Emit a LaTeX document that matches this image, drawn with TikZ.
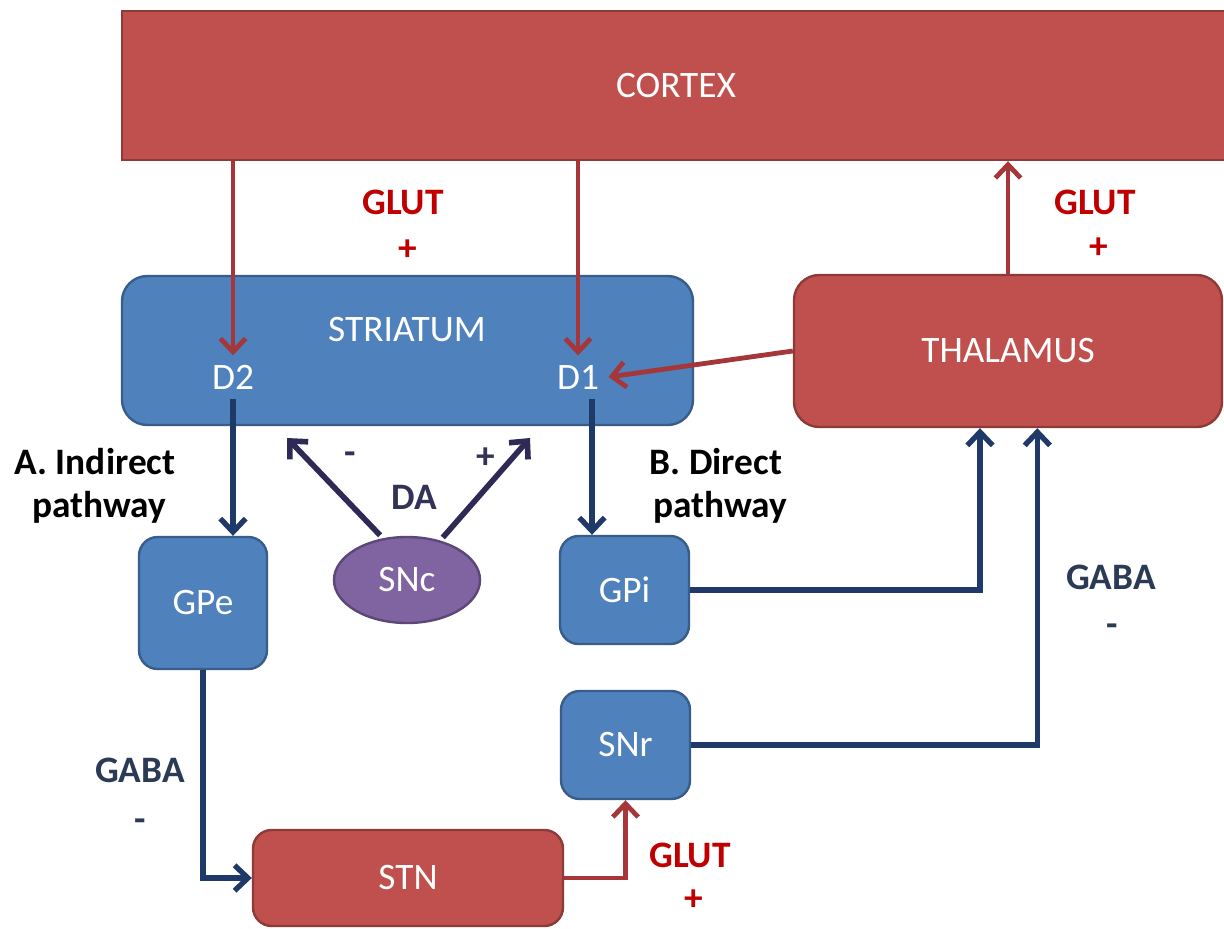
\documentclass[tikz,border=0pt]{standalone}
\usepackage{fontspec}
\setmainfont{Carlito}
\usetikzlibrary{arrows.meta,shapes.geometric}
\definecolor{redfill}{HTML}{C0504D}
\definecolor{redline}{HTML}{8E3A38}
\definecolor{bluefill}{HTML}{4F81BD}
\definecolor{blueline}{HTML}{385D8A}
\definecolor{purpfill}{HTML}{8064A2}
\definecolor{purpline}{HTML}{5C4776}
\definecolor{redarr}{HTML}{A5373A}
\definecolor{navyarr}{HTML}{1F3A68}
\definecolor{daarr}{HTML}{2F2A55}
\definecolor{redtxt}{HTML}{C00000}
\definecolor{navytxt}{HTML}{2B3A55}
\definecolor{datxt}{HTML}{333355}
\begin{document}
\begin{tikzpicture}[x=0.75pt,y=-0.75pt,
  every node/.style={font=\fontsize{28}{33}\selectfont},
  redbox/.style={draw=redline,fill=redfill,line width=1.8pt,text=white,inner sep=0pt},
  bluebox/.style={draw=blueline,fill=bluefill,line width=1.8pt,text=white,inner sep=0pt},
  dlabel/.style={text=white,inner sep=7pt},
  tipstyle/.style={-{Straight Barb[length=10pt,width=19pt]}},
  redarrow/.style={tipstyle,draw=redarr,line width=3.6pt},
  navyarrow/.style={tipstyle,draw=navyarr,line width=4pt},
  daarrow/.style={tipstyle,draw=daarr,line width=4.2pt},
  redlbl/.style={text=redtxt,font=\fontsize{28}{33}\selectfont\bfseries},
  navylbl/.style={text=navytxt,font=\fontsize{28}{33}\selectfont\bfseries},
  dalbl/.style={text=datxt,font=\fontsize{28}{33}\selectfont\bfseries},
  pathlbl/.style={text=black,font=\fontsize{28}{33}\selectfont\bfseries,align=center}
]
\useasboundingbox[fill=white] (0,0) rectangle (1224,928);

% boxes
\node[redbox,minimum width=831pt,minimum height=111.75pt] (cortex) at (676,85.5) {CORTEX};
\node[bluebox,rounded corners=19pt,minimum width=428.25pt,minimum height=111.75pt] (str) at (407.5,350.5) {};
\node[text=white] (strlbl) at (407,330) {STRIATUM};
\node[dlabel] (d2) at (233,377) {D2};
\node[dlabel] (d1) at (578,377) {D1};
\node[redbox,rounded corners=19pt,minimum width=321pt,minimum height=114pt] (thal) at (1008,351) {THALAMUS};
\node[bluebox,rounded corners=14pt,minimum width=96pt,minimum height=99pt] (gpe) at (203,603) {GPe};
\node[draw=purpline,fill=purpfill,line width=1.8pt,ellipse,text=white,inner sep=0pt,minimum width=109.5pt,minimum height=64.5pt] (snc) at (407,580) {SNc};
\node[bluebox,rounded corners=14pt,minimum width=96.75pt,minimum height=81pt] (gpi) at (624.5,590) {GPi};
\node[bluebox,rounded corners=14pt,minimum width=96.75pt,minimum height=81pt] (snr) at (625.5,745) {SNr};
\node[redbox,rounded corners=14pt,minimum width=232.5pt,minimum height=72pt] (stn) at (408,878) {STN};

% tips of the dopamine arrows
\coordinate (tipL) at (287,438);
\coordinate (tipR) at (530,438);

% connectors
\draw[redarrow] (d2 |- cortex.south) -- (d2.north);
\draw[redarrow] (d1 |- cortex.south) -- (d1.north);
\draw[redarrow] (thal.west) -- (d1.east);
\draw[redarrow] (thal.north) -- (thal.north |- cortex.south);
\draw[navyarrow] (d2.south) -- (d2.south |- gpe.north);
\draw[navyarrow] ([xshift=10.5pt]d1.south) -- ([xshift=10.5pt]d1.south |- gpi.north);
\draw[daarrow,shorten <=3pt] (snc.120) -- (tipL);
\draw[daarrow,shorten <=3pt] (snc.50) -- (tipR);
\draw[navyarrow] (gpi.east) -| ([xshift=-21pt]thal.south);
\draw[navyarrow] (snr.east) -| ([xshift=22pt]thal.south);
\draw[navyarrow] (gpe.south) |- (stn.west);
\draw[redarrow] (stn.east) -| (snr.south);

% labels
\node[redlbl] (glut1) at (403,202) {GLUT};
\node[redlbl] (plus1) at (408,250) {+};
\node[redlbl] (glut2) at (1095,202) {GLUT};
\node[redlbl] (plus2) at (1099,248) {+};
\node[redlbl] (glut3) at (690,855) {GLUT};
\node[redlbl] (plus3) at (694,900) {+};
\node[navylbl] (gaba1) at (1111,577) {GABA};
\node[navylbl] (minus1) at (1112,630) {-};
\node[navylbl] (gaba2) at (140,770) {GABA};
\node[navylbl] (minus2) at (140,825) {-};
\node[dalbl] (daminus) at (350,458) {-};
\node[dalbl] (daplus) at (486,458) {+};
\node[dalbl] (da) at (414,497) {DA};
\node[pathlbl] (indA) at (95,462) {A. Indirect};
\node[pathlbl] (indB) at (99,507) {pathway};
\node[pathlbl] (dirA) at (716,462) {B. Direct};
\node[pathlbl] (dirB) at (720,507) {pathway};
\end{tikzpicture}
\end{document}
